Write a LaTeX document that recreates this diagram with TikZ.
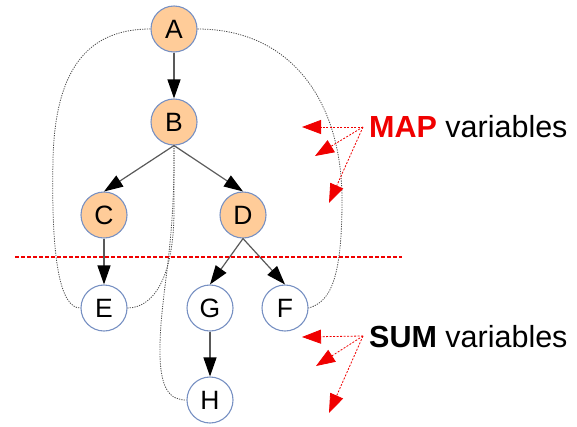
\documentclass[tikz,border=0pt]{standalone}
\usepackage{fontspec}
\setmainfont{Liberation Sans}
\usetikzlibrary{arrows.meta}
\definecolor{maporange}{RGB}{255,204,153}
\definecolor{nodeblue}{RGB}{120,145,195}
\definecolor{linkred}{RGB}{240,0,0}
\begin{document}
\begin{tikzpicture}[x=1pt,y=-1pt,
  var/.style={circle, draw=nodeblue, line width=1.1pt, minimum size=46pt, inner sep=0pt,
    font=\fontsize{26.5}{30}\selectfont},
  mapvar/.style={var, fill=maporange},
  sumvar/.style={var, fill=white},
  edge/.style={draw=black!65, line width=1.2pt,
    -{Triangle[length=19pt,width=13pt,fill=black,color=black]}},
  dotlink/.style={draw=black!70, line width=0.8pt, dash pattern=on 1.2pt off 1.2pt},
  redarrow/.style={draw=linkred, line width=0.8pt, dash pattern=on 2pt off 1.5pt,
    -{Triangle[length=19pt,width=14pt,fill=linkred,color=linkred]}},
  divider/.style={draw=linkred, line width=1.5pt, dash pattern=on 4pt off 2pt},
  label/.style={anchor=base west, inner sep=0pt, font=\fontsize{30.5}{36}\selectfont}
]
\useasboundingbox (0,0) rectangle (577,426);

% nodes
\node[mapvar] (A) at (174,29) {A};
\node[mapvar] (B) at (174,122) {B};
\node[mapvar] (C) at (104,215) {C};
\node[mapvar] (D) at (243,215) {D};
\node[sumvar] (E) at (104,308) {E};
\node[sumvar] (G) at (210,308) {G};
\node[sumvar] (F) at (285,308) {F};
\node[sumvar] (H) at (210,400) {H};

% dotted links
\draw[dotlink] (A.west) .. controls (95,29) and (55,60) .. (53,160)
  .. controls (51,260) and (60,308) .. (E.west);
\draw[dotlink] (B.south) -- (174,210) .. controls (174,280) and (152,308) .. (E.east);
\draw[dotlink] (B.south) .. controls (175,250) and (161,290) .. (160,345)
  .. controls (159,390) and (170,400) .. (H.west);
\draw[dotlink] (A.east) .. controls (290,29) and (342,100) .. (342,200)
  .. controls (342,280) and (330,302) .. (F.east);

% edges
\draw[edge] (A.south) -- (B.north);
\draw[edge] (B.south) -- (C.north);
\draw[edge] (B.south) -- (D.north);
\draw[edge] (C.south) -- (E.north);
\draw[edge] (D.south) -- (G.north);
\draw[edge] (D.south) -- (F.north);
\draw[edge] (G.south) -- (H.north);

% divider
\coordinate (divL) at (15,257);
\coordinate (divR) at (402,257);
\draw[divider] (divL) -- (divR);

% labels
\node[label] (maplabel) at (369,137) {\textbf{\color{linkred}MAP} variables};
\node[label] (sumlabel) at (369,347) {\textbf{SUM} variables};

% red pointer arrows
\coordinate (mapo) at (363,127);
\coordinate (map1) at (302,127);
\coordinate (map2) at (315,156);
\coordinate (map3) at (329,203);
\draw[redarrow] (mapo) -- (map1);
\draw[redarrow] (mapo) -- (map2);
\draw[redarrow] (mapo) -- (map3);

\coordinate (sumo) at (363,336);
\coordinate (sum1) at (302,337);
\coordinate (sum2) at (316,366);
\coordinate (sum3) at (329,413);
\draw[redarrow] (sumo) -- (sum1);
\draw[redarrow] (sumo) -- (sum2);
\draw[redarrow] (sumo) -- (sum3);
\end{tikzpicture}
\end{document}
